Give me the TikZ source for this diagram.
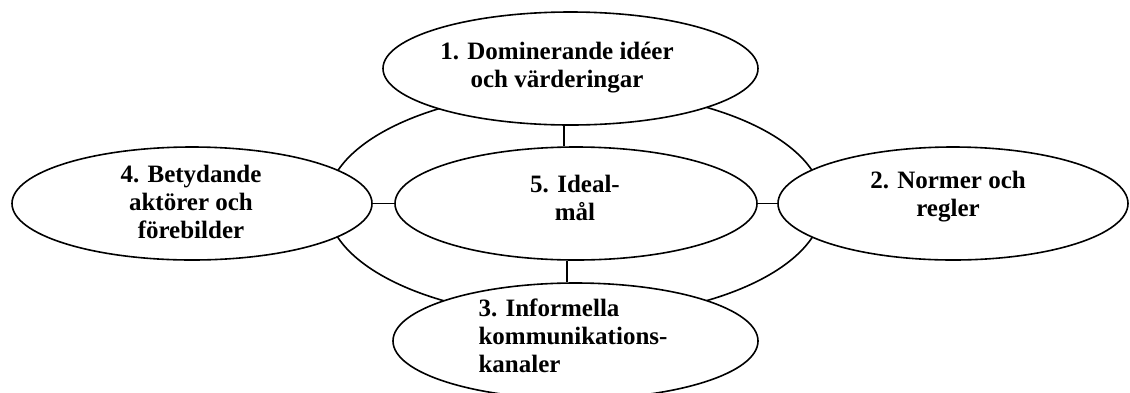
\documentclass[tikz,border=0pt]{standalone}
\usepackage{fontspec}
\setmainfont{Liberation Serif}
\usetikzlibrary{shapes.geometric}
\begin{document}
\begin{tikzpicture}[x=1pt,y=-1pt,
  oval/.style={ellipse,draw,fill=white,line width=1.6pt,inner sep=0pt},
  ringline/.style={ellipse,draw,line width=1.6pt,inner sep=0pt},
  txt/.style={font=\bfseries\fontsize{25}{28}\selectfont,align=center,inner sep=0pt},
  link/.style={line width=1.6pt}]
\useasboundingbox (0,0) rectangle (1130,392);
\clip (0,0) rectangle (1130,392);

% outer ring joining the four surrounding fields
\node[ringline,minimum width=496pt,minimum height=228pt] (ring) at (575,204) {};

% the five fields
\node[oval,minimum width=375pt,minimum height=113pt] (ideas) at (570.5,68.5) {};
\node[oval,minimum width=360pt,minimum height=113pt] (actors) at (192,203.5) {};
\node[oval,minimum width=350pt,minimum height=113pt] (norms) at (953,203.5) {};
\node[oval,minimum width=362pt,minimum height=113pt] (goal) at (576,203.5) {};
\node[oval,minimum width=365pt,minimum height=116pt] (channels) at (575.5,341) {};

% spokes from the centre field
\draw[link] (actors.east) -- (goal.west);
\draw[link] (goal.east) -- (norms.west);
\draw[link] ([xshift=-6.5pt]ideas.south) -- ([xshift=-6.5pt]ideas.south |- goal.north);
\draw[link] ([xshift=-9pt]goal.south) -- ([xshift=-9pt]goal.south |- channels.north);

% labels
\node[txt] (ideas-t) at (557,67.5) {1. Dominerande idéer\\och värderingar};
\node[txt] (actors-t) at (191,201.5) {4. Betydande\\aktörer och\\förebilder};
\node[txt] (norms-t) at (948,196.5) {2. Normer och\\regler};
\node[txt] (goal-t) at (575,197.5) {5. Ideal-\\mål};
\node[txt,align=left] (channels-t) at (573,336) {3. Informella\\kommunikations-\\kanaler};
\end{tikzpicture}
\end{document}
